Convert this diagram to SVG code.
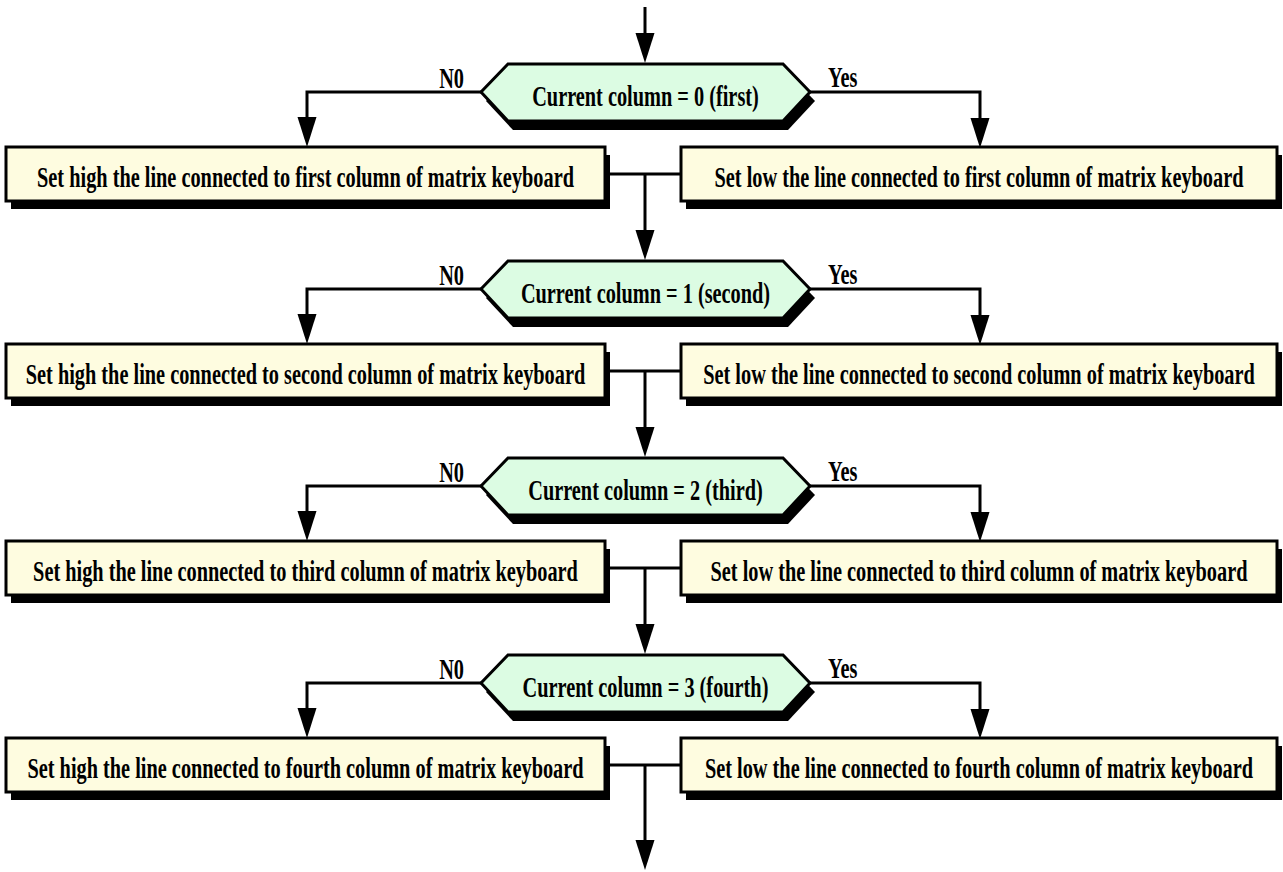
<svg xmlns="http://www.w3.org/2000/svg" width="1283" height="872" viewBox="0 0 1283 872">
  <defs>
    <marker id="arrow" markerUnits="userSpaceOnUse" markerWidth="30" markerHeight="20" refX="20" refY="9.5" orient="auto">
      <path d="M0,0 L30,9.5 L0,19 z" fill="#000"/>
    </marker>
    <polygon id="hex" points="481,92 508,64 783,64 810,92 783,121 508,121"/>
  </defs>
  <style>
    text { font-family: "Liberation Serif", "Times New Roman", serif; font-weight: bold; font-size: 30px; fill: #000; }
    .mid { text-anchor: middle; }
    .end { text-anchor: end; }
    .shadow { fill: #000; stroke: none; }
    .dec { fill: #dcfce3; stroke: #000; stroke-width: 3; stroke-linejoin: miter; }
    .box { fill: #fefce0; stroke: #000; stroke-width: 3; }
    .conn path { fill: none; stroke: #000; stroke-width: 3; }
    .conn path.arr { marker-end: url(#arrow); }
  </style>
  <rect width="1283" height="872" fill="#fff"/>

  <!-- flow lines -->
  <g id="connectors" class="conn">
    <path class="arr" d="M645,7 V53"/>
    <!-- column 0 -->
    <path class="arr" d="M481,92 H307 V137"/>
    <path class="arr" d="M810,92 H980 V138"/>
    <path d="M605,174 H681"/>
    <path class="arr" d="M645,174 V250"/>
    <!-- column 1 -->
    <path class="arr" d="M481,289 H307 V334"/>
    <path class="arr" d="M810,289 H980 V335"/>
    <path d="M605,371 H681"/>
    <path class="arr" d="M645,371 V447"/>
    <!-- column 2 -->
    <path class="arr" d="M481,486 H307 V531"/>
    <path class="arr" d="M810,486 H980 V532"/>
    <path d="M605,568 H681"/>
    <path class="arr" d="M645,568 V644"/>
    <!-- column 3 -->
    <path class="arr" d="M481,683 H307 V728"/>
    <path class="arr" d="M810,683 H980 V729"/>
    <path d="M605,765 H681"/>
    <path class="arr" d="M645,765 V860"/>
  </g>

  <!-- branch labels -->
  <g id="labels">
    <text class="end" transform="translate(464 88) scale(0.677 1)">N0</text>
    <text transform="translate(828 87) scale(0.677 1)">Yes</text>
    <text class="end" transform="translate(464 285) scale(0.677 1)">N0</text>
    <text transform="translate(828 284) scale(0.677 1)">Yes</text>
    <text class="end" transform="translate(464 482) scale(0.677 1)">N0</text>
    <text transform="translate(828 481) scale(0.677 1)">Yes</text>
    <text class="end" transform="translate(464 679) scale(0.677 1)">N0</text>
    <text transform="translate(828 678) scale(0.677 1)">Yes</text>
  </g>

  <!-- column 0 -->
  <g id="dec0">
    <use href="#hex" class="shadow" transform="translate(5 9)"/>
    <use href="#hex" class="dec"/>
    <text class="mid" transform="translate(645.5 106) scale(0.677 1)">Current column = 0 (first)</text>
  </g>
  <g id="high0">
    <rect class="shadow" x="11" y="155" width="599" height="54"/>
    <rect class="box" x="6" y="147" width="599" height="54"/>
    <text class="mid" transform="translate(305.5 187) scale(0.677 1)">Set high the line connected to first column of matrix keyboard</text>
  </g>
  <g id="low0">
    <rect class="shadow" x="686" y="155" width="596" height="54"/>
    <rect class="box" x="681" y="147" width="596" height="54"/>
    <text class="mid" transform="translate(979 187) scale(0.677 1)">Set low the line connected to first column of matrix keyboard</text>
  </g>

  <!-- column 1 -->
  <g id="dec1" transform="translate(0 197)">
    <use href="#hex" class="shadow" transform="translate(5 9)"/>
    <use href="#hex" class="dec"/>
    <text class="mid" transform="translate(645.5 106) scale(0.677 1)">Current column = 1 (second)</text>
  </g>
  <g id="high1" transform="translate(0 197)">
    <rect class="shadow" x="11" y="155" width="599" height="54"/>
    <rect class="box" x="6" y="147" width="599" height="54"/>
    <text class="mid" transform="translate(305.5 187) scale(0.677 1)">Set high the line connected to second column of matrix keyboard</text>
  </g>
  <g id="low1" transform="translate(0 197)">
    <rect class="shadow" x="686" y="155" width="596" height="54"/>
    <rect class="box" x="681" y="147" width="596" height="54"/>
    <text class="mid" transform="translate(979 187) scale(0.677 1)">Set low the line connected to second column of matrix keyboard</text>
  </g>

  <!-- column 2 -->
  <g id="dec2" transform="translate(0 394)">
    <use href="#hex" class="shadow" transform="translate(5 9)"/>
    <use href="#hex" class="dec"/>
    <text class="mid" transform="translate(645.5 106) scale(0.677 1)">Current column = 2 (third)</text>
  </g>
  <g id="high2" transform="translate(0 394)">
    <rect class="shadow" x="11" y="155" width="599" height="54"/>
    <rect class="box" x="6" y="147" width="599" height="54"/>
    <text class="mid" transform="translate(305.5 187) scale(0.677 1)">Set high the line connected to third column of matrix keyboard</text>
  </g>
  <g id="low2" transform="translate(0 394)">
    <rect class="shadow" x="686" y="155" width="596" height="54"/>
    <rect class="box" x="681" y="147" width="596" height="54"/>
    <text class="mid" transform="translate(979 187) scale(0.677 1)">Set low the line connected to third column of matrix keyboard</text>
  </g>

  <!-- column 3 -->
  <g id="dec3" transform="translate(0 591)">
    <use href="#hex" class="shadow" transform="translate(5 9)"/>
    <use href="#hex" class="dec"/>
    <text class="mid" transform="translate(645.5 106) scale(0.677 1)">Current column = 3 (fourth)</text>
  </g>
  <g id="high3" transform="translate(0 591)">
    <rect class="shadow" x="11" y="155" width="599" height="54"/>
    <rect class="box" x="6" y="147" width="599" height="54"/>
    <text class="mid" transform="translate(305.5 187) scale(0.677 1)">Set high the line connected to fourth column of matrix keyboard</text>
  </g>
  <g id="low3" transform="translate(0 591)">
    <rect class="shadow" x="686" y="155" width="596" height="54"/>
    <rect class="box" x="681" y="147" width="596" height="54"/>
    <text class="mid" transform="translate(979 187) scale(0.677 1)">Set low the line connected to fourth column of matrix keyboard</text>
  </g>
</svg>
